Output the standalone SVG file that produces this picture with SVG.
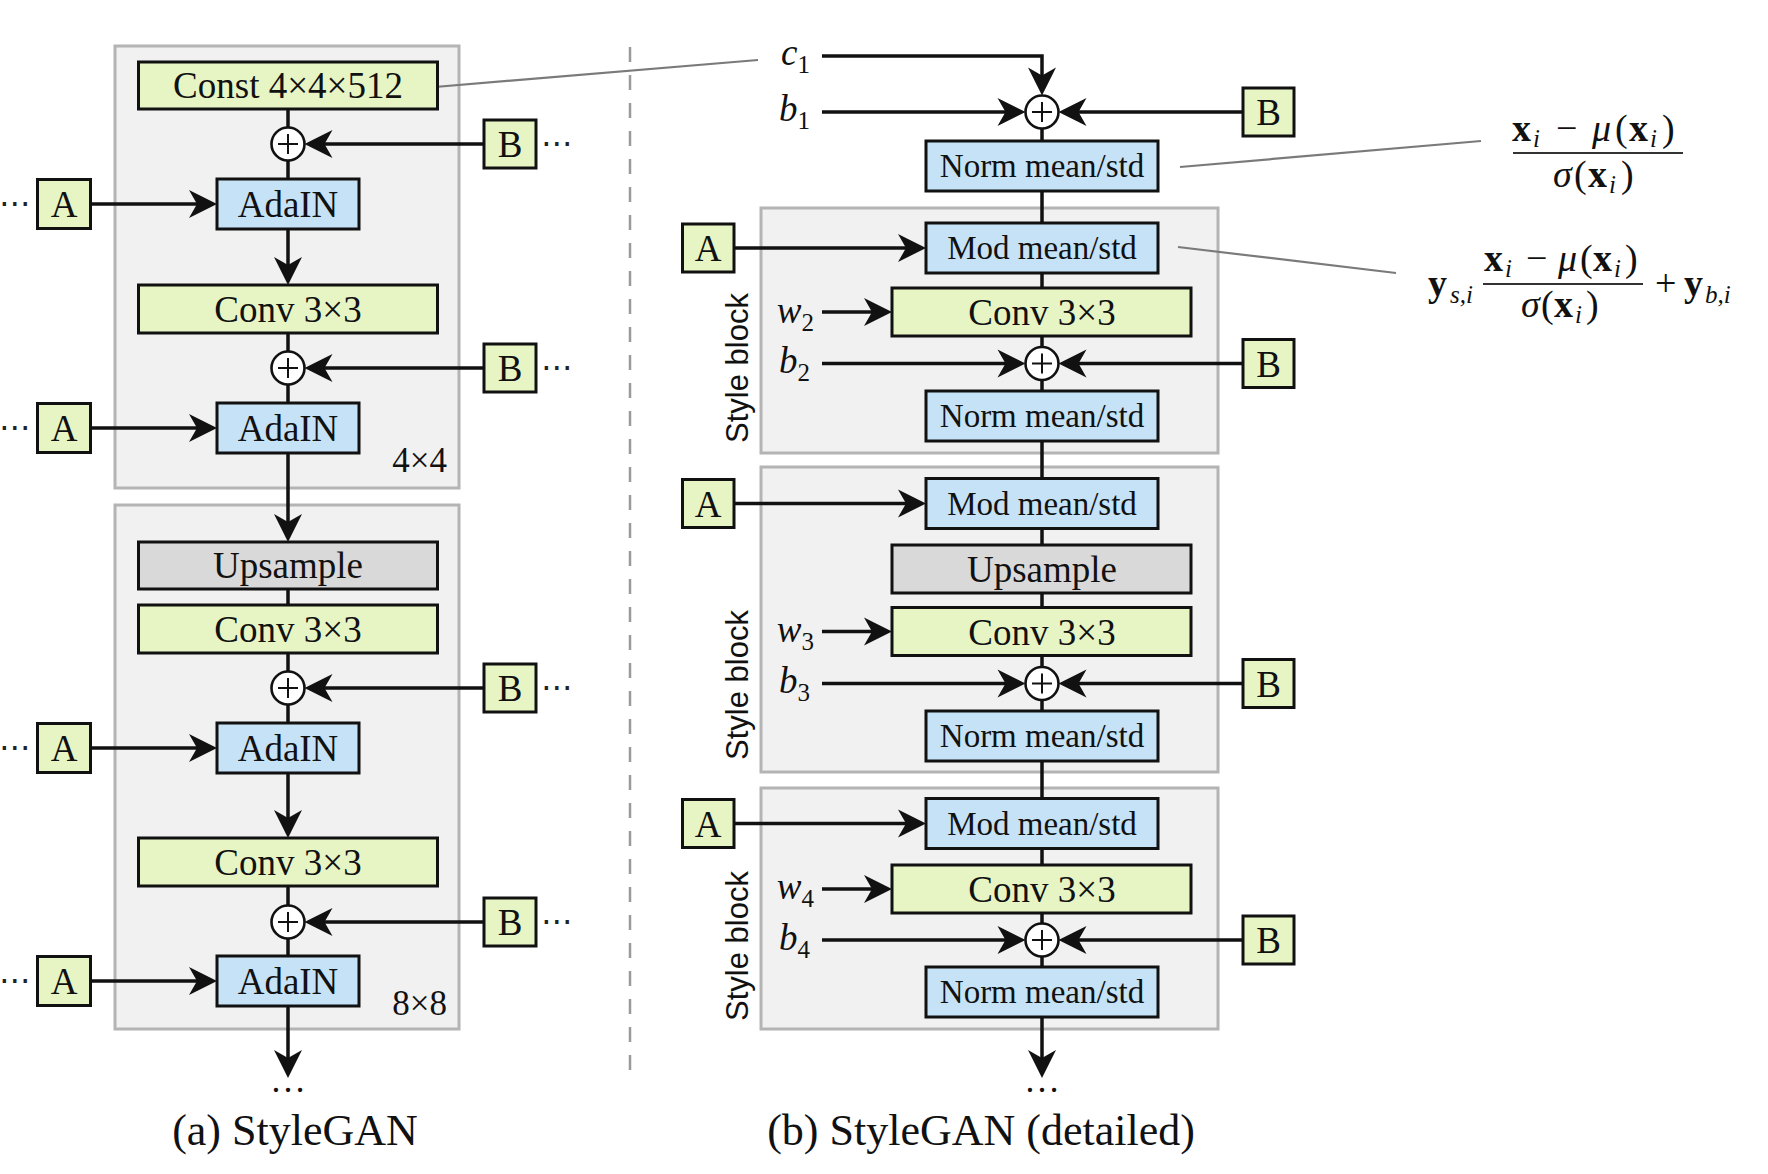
<svg xmlns="http://www.w3.org/2000/svg" width="1768" height="1174" viewBox="0 0 1768 1174">
<defs>
<style>
.grp{fill:#f1f1f1;stroke:#b4b4b4;stroke-width:3}
.gr{fill:#e7f5c4;stroke:#111;stroke-width:3}
.bl{fill:#c6e2f7;stroke:#111;stroke-width:3}
.up{fill:#d9d9d9;stroke:#111;stroke-width:3}
.t{font-family:"Liberation Serif","Times New Roman",serif;font-size:37px;fill:#111;text-anchor:middle}
.ts{font-family:"Liberation Serif","Times New Roman",serif;font-size:33px;fill:#111;text-anchor:middle}
.res{font-family:"Liberation Serif","Times New Roman",serif;font-size:35px;fill:#111;text-anchor:end}
.var{font-family:"Liberation Serif","Times New Roman",serif;font-size:37px;font-style:italic;fill:#111;text-anchor:end}
.sub{font-size:25px;font-style:normal}
.sb{font-family:"Liberation Sans",Arial,sans-serif;font-size:31px;fill:#111;text-anchor:middle}
.cap{font-family:"Liberation Serif","Times New Roman",serif;font-size:44px;fill:#111;text-anchor:middle}
.dots{font-family:"DejaVu Sans",sans-serif;font-size:32px;fill:#222}
.ell{font-family:"Liberation Serif",serif;font-size:36px;fill:#111;text-anchor:middle}
.m{font-family:"Liberation Serif","Times New Roman",serif;font-size:38px;fill:#111}
.mb{font-weight:bold}
.mi{font-style:italic}
.ms{font-style:italic;font-size:25px}
.ln{stroke:#111;stroke-width:3.5;fill:none}
.ar{stroke:#111;stroke-width:3.5;fill:none;marker-end:url(#st)}
.lead{stroke:#7a7a7a;stroke-width:2.2;fill:none}
.bar{stroke:#333;stroke-width:2}
.add circle{fill:#fff;stroke:#111;stroke-width:2.6}
.add path{stroke:#111;stroke-width:2}
</style>
<marker id="st" markerUnits="userSpaceOnUse" markerWidth="32" markerHeight="30" viewBox="-24 -15 32 30" refX="0" refY="0" orient="auto">
<path d="M6,0 L-22,-14 L-14,0 L-22,14 Z" fill="#111"/>
</marker>
</defs>
<rect width="1768" height="1174" fill="#fff"/>

<!-- group backgrounds -->
<g id="block-4x4"><rect class="grp" x="115" y="46" width="344" height="442"/><text class="res" x="447" y="472">4×4</text></g>
<g id="block-8x8"><rect class="grp" x="115" y="505" width="344" height="524"/><text class="res" x="447" y="1015">8×8</text></g>
<g id="style-block-1"><rect class="grp" x="761" y="208" width="457" height="245"/><text class="sb" transform="translate(748,368) rotate(-90)">Style block</text></g>
<g id="style-block-2"><rect class="grp" x="761" y="467" width="457" height="305"/><text class="sb" transform="translate(748,685) rotate(-90)">Style block</text></g>
<g id="style-block-3"><rect class="grp" x="761" y="788" width="457" height="241"/><text class="sb" transform="translate(748,946) rotate(-90)">Style block</text></g>

<!-- divider -->
<line x1="630" y1="47" x2="630" y2="1078" stroke="#9a9a9a" stroke-width="2.5" stroke-dasharray="15 13"/>

<!-- connectors -->
<g id="connectors">
<line class="ln" x1="288" y1="109" x2="288" y2="128"/>
<line class="ln" x1="288" y1="160" x2="288" y2="179"/>
<line class="ar" x1="288" y1="229" x2="288" y2="279"/>
<line class="ln" x1="288" y1="333" x2="288" y2="352"/>
<line class="ln" x1="288" y1="384" x2="288" y2="403"/>
<line class="ar" x1="288" y1="453" x2="288" y2="536"/>
<line class="ln" x1="288" y1="589" x2="288" y2="605"/>
<line class="ln" x1="288" y1="653" x2="288" y2="672"/>
<line class="ln" x1="288" y1="704" x2="288" y2="723"/>
<line class="ar" x1="288" y1="773" x2="288" y2="832"/>
<line class="ln" x1="288" y1="886" x2="288" y2="906"/>
<line class="ln" x1="288" y1="938" x2="288" y2="956"/>
<line class="ar" x1="288" y1="1006" x2="288" y2="1072"/>
<line class="ar" x1="90" y1="204" x2="211" y2="204"/>
<line class="ar" x1="90" y1="428" x2="211" y2="428"/>
<line class="ar" x1="90" y1="748" x2="211" y2="748"/>
<line class="ar" x1="90" y1="981" x2="211" y2="981"/>
<line class="ar" x1="484" y1="144" x2="310.5" y2="144"/>
<line class="ar" x1="484" y1="368" x2="310.5" y2="368"/>
<line class="ar" x1="484" y1="688" x2="310.5" y2="688"/>
<line class="ar" x1="484" y1="922" x2="310.5" y2="922"/>
<line class="lead" x1="423" y1="88" x2="758" y2="60"/>
<path class="ar" d="M822,56 H1042 V89.5"/>
<line class="ar" x1="822" y1="112" x2="1019.5" y2="112"/>
<line class="ar" x1="1243" y1="112" x2="1064.5" y2="112"/>
<line class="ln" x1="1042" y1="128.5" x2="1042" y2="141"/>
<line class="ln" x1="1042" y1="191" x2="1042" y2="223"/>
<line class="ar" x1="734" y1="248" x2="920" y2="248"/>
<line class="ln" x1="1042" y1="273" x2="1042" y2="288"/>
<line class="ar" x1="822" y1="312" x2="886" y2="312"/>
<line class="ln" x1="1042" y1="336" x2="1042" y2="347"/>
<line class="ar" x1="822" y1="363.5" x2="1019.5" y2="363.5"/>
<line class="ar" x1="1243" y1="363.5" x2="1064.5" y2="363.5"/>
<line class="ln" x1="1042" y1="380" x2="1042" y2="391"/>
<line class="ln" x1="1042" y1="441" x2="1042" y2="478.5"/>
<line class="ar" x1="734" y1="503.5" x2="920" y2="503.5"/>
<line class="ln" x1="1042" y1="528.5" x2="1042" y2="545"/>
<line class="ln" x1="1042" y1="593" x2="1042" y2="607.5"/>
<line class="ar" x1="822" y1="631.5" x2="886" y2="631.5"/>
<line class="ln" x1="1042" y1="655.5" x2="1042" y2="667"/>
<line class="ar" x1="822" y1="683.5" x2="1019.5" y2="683.5"/>
<line class="ar" x1="1243" y1="683.5" x2="1064.5" y2="683.5"/>
<line class="ln" x1="1042" y1="700" x2="1042" y2="711"/>
<line class="ln" x1="1042" y1="761" x2="1042" y2="798.5"/>
<line class="ar" x1="734" y1="823.5" x2="920" y2="823.5"/>
<line class="ln" x1="1042" y1="848.5" x2="1042" y2="865"/>
<line class="ar" x1="822" y1="889" x2="886" y2="889"/>
<line class="ln" x1="1042" y1="913" x2="1042" y2="923.5"/>
<line class="ar" x1="822" y1="940" x2="1019.5" y2="940"/>
<line class="ar" x1="1243" y1="940" x2="1064.5" y2="940"/>
<line class="ln" x1="1042" y1="956.5" x2="1042" y2="967"/>
<line class="ar" x1="1042" y1="1017" x2="1042" y2="1072"/>
<line class="lead" x1="1180" y1="167" x2="1481" y2="141"/>
<line class="lead" x1="1178" y1="247" x2="1396" y2="273"/>
</g>

<!-- left panel nodes -->
<g id="const"><rect class="gr" x="138.5" y="62" width="299" height="47"/><text class="t" x="288" y="98">Const 4×4×512</text></g>
<g id="add-l1" class="add"><circle cx="288" cy="144" r="16.5"/><path d="M278,144 H298 M288,134 V154"/></g>
<g id="B-l1"><rect class="gr" x="484" y="120" width="52" height="48"/><text class="t" x="510" y="157">B</text><text class="dots" x="541" y="154">⋯</text></g>
<g id="A-l1"><rect class="gr" x="37.5" y="179.5" width="53" height="49"/><text class="t" x="64" y="217">A</text><text class="dots" x="-1" y="214">⋯</text></g>
<g id="adain-l1"><rect class="bl" x="217" y="179" width="142" height="50"/><text class="t" x="288" y="217">AdaIN</text></g>
<g id="conv-l1"><rect class="gr" x="138.5" y="285" width="299" height="48"/><text class="t" x="288" y="322">Conv 3×3</text></g>
<g id="add-l2" class="add"><circle cx="288" cy="368" r="16.5"/><path d="M278,368 H298 M288,358 V378"/></g>
<g id="B-l2"><rect class="gr" x="484" y="344" width="52" height="48"/><text class="t" x="510" y="381">B</text><text class="dots" x="541" y="378">⋯</text></g>
<g id="A-l2"><rect class="gr" x="37.5" y="403.5" width="53" height="49"/><text class="t" x="64" y="441">A</text><text class="dots" x="-1" y="438">⋯</text></g>
<g id="adain-l2"><rect class="bl" x="217" y="403" width="142" height="50"/><text class="t" x="288" y="441">AdaIN</text></g>

<g id="upsample-l"><rect class="up" x="138.5" y="542" width="299" height="47"/><text class="t" x="288" y="578">Upsample</text></g>
<g id="conv-l2"><rect class="gr" x="138.5" y="605" width="299" height="48"/><text class="t" x="288" y="642">Conv 3×3</text></g>
<g id="add-l3" class="add"><circle cx="288" cy="688" r="16.5"/><path d="M278,688 H298 M288,678 V698"/></g>
<g id="B-l3"><rect class="gr" x="484" y="664" width="52" height="48"/><text class="t" x="510" y="701">B</text><text class="dots" x="541" y="698">⋯</text></g>
<g id="A-l3"><rect class="gr" x="37.5" y="723.5" width="53" height="49"/><text class="t" x="64" y="761">A</text><text class="dots" x="-1" y="758">⋯</text></g>
<g id="adain-l3"><rect class="bl" x="217" y="723" width="142" height="50"/><text class="t" x="288" y="761">AdaIN</text></g>
<g id="conv-l3"><rect class="gr" x="138.5" y="838" width="299" height="48"/><text class="t" x="288" y="875">Conv 3×3</text></g>
<g id="add-l4" class="add"><circle cx="288" cy="922" r="16.5"/><path d="M278,922 H298 M288,912 V932"/></g>
<g id="B-l4"><rect class="gr" x="484" y="898" width="52" height="48"/><text class="t" x="510" y="935">B</text><text class="dots" x="541" y="932">⋯</text></g>
<g id="A-l4"><rect class="gr" x="37.5" y="956.5" width="53" height="49"/><text class="t" x="64" y="994">A</text><text class="dots" x="-1" y="991">⋯</text></g>
<g id="adain-l4"><rect class="bl" x="217" y="956" width="142" height="50"/><text class="t" x="288" y="994">AdaIN</text></g>
<text class="ell" x="288" y="1092">…</text>
<text class="cap" x="295" y="1145">(a) StyleGAN</text>

<!-- right panel nodes -->
<g id="c1"><text class="var" x="810" y="65">c<tspan class="sub" dy="8">1</tspan></text></g>
<g id="b1"><text class="var" x="810" y="121">b<tspan class="sub" dy="8">1</tspan></text></g>
<g id="add-r1" class="add"><circle cx="1042" cy="112" r="16.5"/><path d="M1032,112 H1052 M1042,102 V122"/></g>
<g id="B-r1"><rect class="gr" x="1243" y="88" width="51" height="48"/><text class="t" x="1268.5" y="125">B</text></g>
<g id="norm-r1"><rect class="bl" x="926" y="141" width="232" height="50"/><text class="ts" x="1042" y="177">Norm mean/std</text></g>

<g id="A-r1"><rect class="gr" x="682.5" y="224" width="51.5" height="48"/><text class="t" x="708" y="261">A</text></g>
<g id="mod-r1"><rect class="bl" x="926" y="223" width="232" height="50"/><text class="ts" x="1042" y="259">Mod mean/std</text></g>
<g id="w2"><text class="var" x="814" y="323">w<tspan class="sub" dy="8">2</tspan></text></g>
<g id="conv-r1"><rect class="gr" x="892" y="288" width="299" height="48"/><text class="t" x="1042" y="325">Conv 3×3</text></g>
<g id="b2"><text class="var" x="810" y="373">b<tspan class="sub" dy="8">2</tspan></text></g>
<g id="add-r2" class="add"><circle cx="1042" cy="363.5" r="16.5"/><path d="M1032,363.5 H1052 M1042,353.5 V373.5"/></g>
<g id="B-r2"><rect class="gr" x="1243" y="339.5" width="51" height="48"/><text class="t" x="1268.5" y="376.5">B</text></g>
<g id="norm-r2"><rect class="bl" x="926" y="391" width="232" height="50"/><text class="ts" x="1042" y="427">Norm mean/std</text></g>

<g id="A-r2"><rect class="gr" x="682.5" y="479.5" width="51.5" height="48"/><text class="t" x="708" y="516.5">A</text></g>
<g id="mod-r2"><rect class="bl" x="926" y="478.5" width="232" height="50"/><text class="ts" x="1042" y="514.5">Mod mean/std</text></g>
<g id="upsample-r"><rect class="up" x="892" y="545" width="299" height="48"/><text class="t" x="1042" y="582">Upsample</text></g>
<g id="w3"><text class="var" x="814" y="642">w<tspan class="sub" dy="8">3</tspan></text></g>
<g id="conv-r2"><rect class="gr" x="892" y="607.5" width="299" height="48"/><text class="t" x="1042" y="644.5">Conv 3×3</text></g>
<g id="b3"><text class="var" x="810" y="693">b<tspan class="sub" dy="8">3</tspan></text></g>
<g id="add-r3" class="add"><circle cx="1042" cy="683.5" r="16.5"/><path d="M1032,683.5 H1052 M1042,673.5 V693.5"/></g>
<g id="B-r3"><rect class="gr" x="1243" y="659.5" width="51" height="48"/><text class="t" x="1268.5" y="696.5">B</text></g>
<g id="norm-r3"><rect class="bl" x="926" y="711" width="232" height="50"/><text class="ts" x="1042" y="747">Norm mean/std</text></g>

<g id="A-r3"><rect class="gr" x="682.5" y="799.5" width="51.5" height="48"/><text class="t" x="708" y="836.5">A</text></g>
<g id="mod-r3"><rect class="bl" x="926" y="798.5" width="232" height="50"/><text class="ts" x="1042" y="834.5">Mod mean/std</text></g>
<g id="w4"><text class="var" x="814" y="899">w<tspan class="sub" dy="8">4</tspan></text></g>
<g id="conv-r3"><rect class="gr" x="892" y="865" width="299" height="48"/><text class="t" x="1042" y="902">Conv 3×3</text></g>
<g id="b4"><text class="var" x="810" y="950">b<tspan class="sub" dy="8">4</tspan></text></g>
<g id="add-r4" class="add"><circle cx="1042" cy="940" r="16.5"/><path d="M1032,940 H1052 M1042,930 V950"/></g>
<g id="B-r4"><rect class="gr" x="1243" y="916" width="51" height="48"/><text class="t" x="1268.5" y="953">B</text></g>
<g id="norm-r4"><rect class="bl" x="926" y="967" width="232" height="50"/><text class="ts" x="1042" y="1003">Norm mean/std</text></g>
<text class="ell" x="1042" y="1092">…</text>
<text class="cap" x="981" y="1145">(b) StyleGAN (detailed)</text>

<!-- formulas -->
<g id="formula-norm" class="m">
<text class="m"><tspan class="mb" x="1512" y="141">x</tspan><tspan class="ms" x="1533" y="147">i</tspan><tspan x="1556" y="141">−</tspan><tspan class="mi" x="1592" y="141">μ</tspan><tspan x="1615" y="141">(</tspan><tspan class="mb" x="1629" y="141">x</tspan><tspan class="ms" x="1650" y="147">i</tspan><tspan x="1662" y="141">)</tspan></text>
<line class="bar" x1="1513" y1="153" x2="1683" y2="153"/>
<text class="m"><tspan class="mi" x="1553" y="187">σ</tspan><tspan x="1574" y="187">(</tspan><tspan class="mb" x="1588" y="187">x</tspan><tspan class="ms" x="1609" y="193">i</tspan><tspan x="1621" y="187">)</tspan></text>
</g>
<g id="formula-mod" class="m">
<text class="m"><tspan class="mb" x="1428" y="296">y</tspan><tspan class="ms" x="1450" y="303">s,i</tspan></text>
<text class="m"><tspan class="mb" x="1484" y="271">x</tspan><tspan class="ms" x="1505" y="277">i</tspan><tspan x="1526" y="271">−</tspan><tspan class="mi" x="1558" y="271">μ</tspan><tspan x="1580" y="271">(</tspan><tspan class="mb" x="1593" y="271">x</tspan><tspan class="ms" x="1614" y="277">i</tspan><tspan x="1625" y="271">)</tspan></text>
<line class="bar" x1="1483" y1="284" x2="1643" y2="284"/>
<text class="m"><tspan class="mi" x="1521" y="317">σ</tspan><tspan x="1541" y="317">(</tspan><tspan class="mb" x="1554" y="317">x</tspan><tspan class="ms" x="1575" y="323">i</tspan><tspan x="1586" y="317">)</tspan></text>
<text class="m"><tspan x="1655" y="296">+</tspan><tspan class="mb" x="1684" y="296">y</tspan><tspan class="ms" x="1705" y="303">b,i</tspan></text>
</g>
</svg>
